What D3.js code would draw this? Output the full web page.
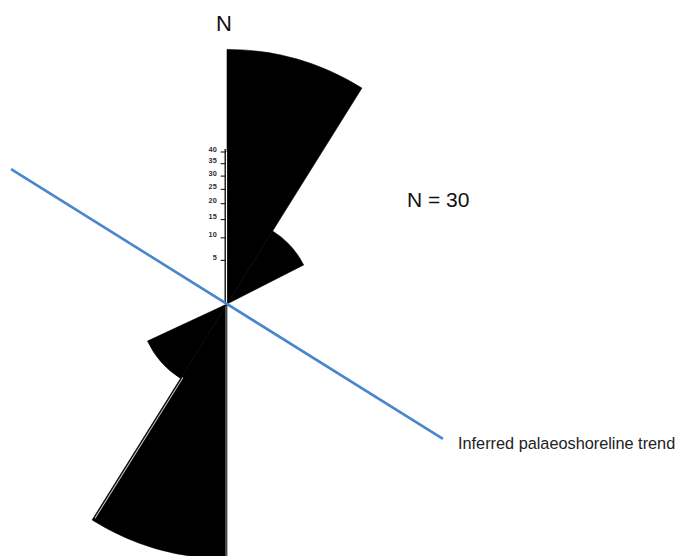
<!DOCTYPE html>
<html><head><meta charset="utf-8">
<script src="https://cdn.jsdelivr.net/npm/d3@7"></script>
<style>html,body{margin:0;padding:0;background:#fff;}svg{display:block;}</style>
</head><body>
<svg id="chart" width="678" height="556"></svg>
<script>
// Rose diagram data (azimuth bins in degrees, relative frequency in %)
const binStart = [0, 32, 180, 212];
const binEnd   = [32, 63, 212, 245];
const percent  = [94.5, 15.5, 94.5, 16];
const scaleTicks = [5, 10, 15, 20, 25, 30, 35, 40];
const trendAzimuth = 122;   // inferred palaeoshoreline trend
const sampleCount = 30;

const svg = d3.select("#chart");
const cx = 227, cy = 304;
const rad = d => d * Math.PI / 180;

const r = d3.scalePow().exponent(0.6).domain([0, 40]).range([0, 152]);

const g = svg.append("g").attr("transform", `translate(${cx},${cy})`);

const bins = binStart.map((s, i) => ({start: s, end: binEnd[i], value: percent[i]}));
const arc = d3.arc()
  .innerRadius(0)
  .outerRadius(d => r(d.value))
  .startAngle(d => rad(d.start))
  .endAngle(d => rad(d.end));

g.selectAll("path.petal").data(bins).join("path")
  .attr("class", "petal")
  .attr("d", arc)
  .attr("fill", "#000")
  .attr("stroke", "#000")
  .attr("stroke-width", 0.6);

// thin light edges inside the south petal (as in the original drawing)
const southBig = bins[2];
g.append("g").attr("transform", `rotate(${southBig.end})`)
  .append("line")
  .attr("x1", -1.6).attr("x2", -1.6)
  .attr("y1", -r(bins[3].value) + 2).attr("y2", -r(southBig.value) + 3)
  .attr("stroke", "#cfcfcf").attr("stroke-width", 1);
g.append("g").attr("transform", `rotate(${southBig.start})`)
  .append("line")
  .attr("x1", 1).attr("x2", 1)
  .attr("y1", -2).attr("y2", -r(southBig.value))
  .attr("stroke", "#bdbdbd").attr("stroke-width", 0.8);

// radial scale axis (vertical, north)
const axisX = -1.8;
g.append("line")
  .attr("x1", -0.4).attr("x2", -0.4)
  .attr("y1", 0).attr("y2", -r(40))
  .attr("stroke", "#fff").attr("stroke-width", 1);
g.append("line")
  .attr("x1", axisX).attr("x2", axisX)
  .attr("y1", 0).attr("y2", -r(40) - 3)
  .attr("stroke", "#000").attr("stroke-width", 1.3);
const tk = g.selectAll("g.tick").data(scaleTicks).join("g")
  .attr("class", "tick")
  .attr("transform", d => `translate(0,${-r(d)})`);
tk.append("line")
  .attr("x1", axisX - 4.5).attr("x2", axisX)
  .attr("stroke", "#000").attr("stroke-width", 1);
tk.append("text")
  .attr("x", axisX - 8.5).attr("y", -0.5)
  .attr("text-anchor", "end")
  .attr("font-family", "Liberation Sans, Arial, sans-serif")
  .attr("font-size", 7.3).attr("font-weight", "bold")
  .attr("fill", "#2a2f3a")
  .text(d => d);

// trend line
const reach = r(d3.max(percent));
const dx = Math.sin(rad(trendAzimuth)) * reach, dy = -Math.cos(rad(trendAzimuth)) * reach;
g.append("line")
  .attr("x1", -dx).attr("y1", -dy)
  .attr("x2", dx).attr("y2", dy)
  .attr("stroke", "#4A85D0").attr("stroke-width", 2.6);

// labels
svg.append("text").attr("x", 224).attr("y", 31)
  .attr("text-anchor", "middle")
  .attr("font-family", "Liberation Sans, Arial, sans-serif")
  .attr("font-size", 22).attr("fill", "#111").text("N");
svg.append("text").attr("x", 407).attr("y", 207)
  .attr("font-family", "Liberation Sans, Arial, sans-serif")
  .attr("font-size", 21).attr("fill", "#111").text(`N = ${sampleCount}`);
svg.append("text").attr("x", 458).attr("y", 449)
  .attr("font-family", "Liberation Sans, Arial, sans-serif")
  .attr("font-size", 16.3).attr("fill", "#222").text("Inferred palaeoshoreline trend");
</script>
</body></html>
